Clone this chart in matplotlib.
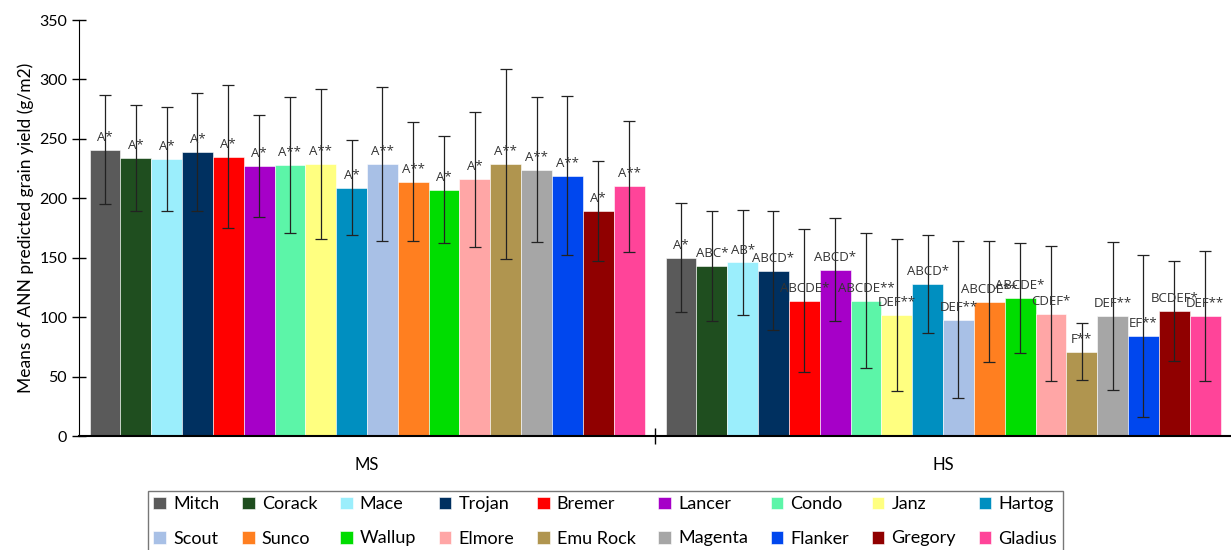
import numpy as np
import matplotlib.pyplot as plt

plt.rcParams['font.family'] = ['Lato', 'DejaVu Sans']

groups = ['MS', 'HS']
varieties = ['Mitch', 'Corack', 'Mace', 'Trojan', 'Bremer', 'Lancer', 'Condo', 'Janz', 'Hartog',
             'Scout', 'Sunco', 'Wallup', 'Elmore', 'Emu Rock', 'Magenta', 'Flanker', 'Gregory', 'Gladius']
colors = ['#5a5a5a', '#1f4e1f', '#9beefc', '#003060', '#ff0000', '#a600c8', '#5cf5a8', '#ffff80', '#008fc0',
          '#a8c0e6', '#ff7f20', '#00dd00', '#ffa6a6', '#b0954f', '#a6a6a6', '#0047ee', '#900000', '#ff4499']

ms_mean = [241, 234, 233, 239, 235, 227, 228, 229, 209, 229, 214, 207, 216, 229, 224, 219, 189, 210]
ms_err = [46, 44.5, 44, 50, 60, 43, 57, 63, 40, 65, 50, 45, 57, 80, 61, 67, 42, 55]
hs_mean = [150, 143, 146, 139, 114, 140, 114, 102, 128, 98, 113, 116, 103, 71, 101, 84, 105, 101]
hs_err = [46, 46, 44, 50, 60, 43, 57, 64, 41, 66, 51, 46, 57, 24, 62, 68, 42, 55]

ms_labels = ['A*', 'A*', 'A*', 'A*', 'A*', 'A*', 'A**', 'A**', 'A*', 'A**', 'A**', 'A*', 'A*', 'A**',
             'A**', 'A**', 'A*', 'A**']
hs_labels = ['A*', 'ABC*', 'AB*', 'ABCD*', 'ABCDE*', 'ABCD*', 'ABCDE**', 'DEF**', 'ABCD*', 'DEF**',
             'ABCDE**', 'ABCDE*', 'CDEF*', 'F**', 'DEF**', 'EF**', 'BCDEF*', 'DEF**']

means = [ms_mean, hs_mean]
errs = [ms_err, hs_err]
labels = [ms_labels, hs_labels]

fig = plt.figure(figsize=(12.31, 5.5), dpi=100)
ax = fig.add_axes([79 / 1231, 1 - 436 / 550, 1 - 79 / 1231, (436 - 20) / 550])

n = len(varieties)
block = 555 / 576
w = block / n
handles = []
for g in range(len(groups)):
    for i in range(n):
        x = g + 0.5 - block / 2 + w * (i + 0.5)
        b = ax.bar(x, means[g][i], width=w, color=colors[i], edgecolor='white', linewidth=0.4,
                   label=varieties[i], zorder=2)
        if g == 0:
            handles.append(b)
        ax.errorbar(x, means[g][i], yerr=errs[g][i], color='#222222', linewidth=0.9,
                    capsize=4, capthick=0.9, zorder=3)
        ax.text(x, means[g][i] + 5, labels[g][i], ha='center', va='bottom',
                fontsize=9.5, color='#333333', zorder=4, family=['Open Sans', 'DejaVu Sans'])

ax.set_xlim(0, 2)
ax.set_ylim(0, 350)
ax.set_yticks(np.arange(0, 351, 50))
ax.set_xticks([1])
ax.set_xticklabels([''])
ax.tick_params(axis='y', direction='inout', length=10, labelsize=11.5, width=1)
ax.tick_params(axis='x', direction='inout', length=12, width=1)
ax.spines['top'].set_visible(False)
ax.spines['right'].set_visible(False)
ax.spines['bottom'].set_linewidth(1.5)
for g, name in enumerate(groups):
    ax.text(g + 0.5, -18, name, ha='center', va='top', fontsize=12)
ax.set_ylabel('Means of ANN predicted grain yield (g/m2)', fontsize=12.5, labelpad=4)

# legend is filled column by column, so interleave to read row by row
ncol = 9
order = [r * ncol + c for c in range(ncol) for r in range(2)]
leg = fig.legend([handles[k] for k in order], [varieties[k] for k in order],
                 loc='upper left', bbox_to_anchor=(139 / 1231, 1 - 482 / 550), ncol=ncol,
                 fontsize=13, frameon=True, fancybox=False, edgecolor='#555555',
                 handlelength=0.7, handleheight=0.7, handletextpad=0.4, columnspacing=1.25,
                 borderpad=0.3, labelspacing=1.0)
leg.get_frame().set_linewidth(1)

fig.savefig('out.png', dpi=100)
